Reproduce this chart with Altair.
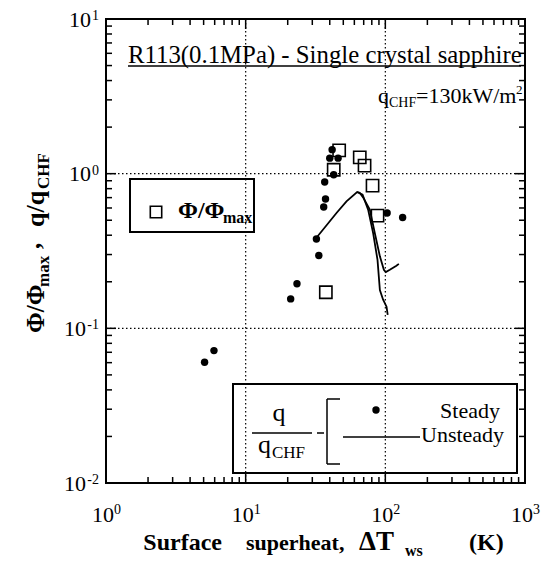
import altair as alt
import pandas as pd

# ---------------- data ----------------
steady_x = [5.08, 5.93, 21.0, 23.3, 32.1, 33.4, 36.2, 37.3, 36.8, 42.7, 40.0, 45.9, 41.6, 103.0, 133.0]
steady_y = [0.0604, 0.0718, 0.155, 0.194, 0.378, 0.296, 0.609, 0.686, 0.884, 0.985, 1.26, 1.26, 1.43, 0.557, 0.521]

phi_x = [37.5, 42.7, 46.7, 65.6, 71.0, 81.0, 87.9]
phi_y = [0.171, 1.06, 1.415, 1.275, 1.127, 0.836, 0.535]

unsteady_a_x = [32.0, 44.7, 52.7, 62.8, 68.7, 75.3, 81.8, 87.9, 91.4, 96.4, 102.0, 104.0]
unsteady_a_y = [0.384, 0.557, 0.662, 0.761, 0.731, 0.585, 0.413, 0.277, 0.177, 0.153, 0.138, 0.122]
unsteady_b_x = [62.8, 65.5, 69.5, 77.4, 84.1, 91.4, 97.6, 100.8, 107.7, 120.0, 125.0]
unsteady_b_y = [0.761, 0.752, 0.70, 0.585, 0.413, 0.292, 0.239, 0.231, 0.239, 0.254, 0.261]

x_major = [1, 10, 100, 1000]
x_minor = [2, 3, 4, 5, 6, 7, 8, 9, 20, 30, 40, 50, 60, 70, 80, 90,
           200, 300, 400, 500, 600, 700, 800, 900]
y_major = [0.01, 0.1, 1, 10]
y_minor = [0.02, 0.03, 0.04, 0.05, 0.06, 0.07, 0.08, 0.09,
           0.2, 0.3, 0.4, 0.5, 0.6, 0.7, 0.8, 0.9,
           2, 3, 4, 5, 6, 7, 8, 9]
x_grid = [10, 100]
y_grid = [0.1, 1]
x_tick_exp = ["0", "1", "2", "3"]
y_tick_pos = [1, 10]
y_tick_pos_exp = ["0", "1"]
y_tick_neg = [0.01, 0.1]
y_tick_neg_exp = ["-2", "-1"]

# ---------------- layout ----------------
W, H = 419, 464
FONT = "Liberation Serif"
xs = alt.Scale(type="log", domain=[1, 1000], nice=False)
ys = alt.Scale(type="log", domain=[0.01, 10], nice=False)
one = pd.DataFrame({"d": [0]})


def txt(s, x, y, size, weight="normal", align="left", angle=None):
    kw = dict(font=FONT, fontSize=size, fontWeight=weight, align=align,
              baseline="alphabetic", color="black")
    if angle is not None:
        kw["angle"] = angle
    return alt.Chart(one).mark_text(**kw).encode(
        x=alt.value(x), y=alt.value(y), text=alt.value(s))


def seg(x1, y1, x2, y2, w=1.5, dash=None):
    kw = dict(color="black", strokeWidth=w)
    if dash:
        kw["strokeDash"] = dash
    return alt.Chart(one).mark_rule(**kw).encode(
        x=alt.value(x1), y=alt.value(y1), x2=alt.value(x2), y2=alt.value(y2))


def box(x1, y1, x2, y2):
    return alt.Chart(one).mark_rect(fillOpacity=0, stroke="black", strokeWidth=2).encode(
        x=alt.value(x1), y=alt.value(y1), x2=alt.value(x2), y2=alt.value(y2))


layers = []

# grid lines (dotted)
gx = pd.DataFrame({"v": x_grid})
gy = pd.DataFrame({"v": y_grid})
layers.append(alt.Chart(gx).mark_rule(color="black", strokeWidth=1.2, strokeDash=[1.5, 2.5]).encode(
    x=alt.X("v:Q", scale=xs, axis=None), y=alt.value(0), y2=alt.value(H)))
layers.append(alt.Chart(gy).mark_rule(color="black", strokeWidth=1.2, strokeDash=[1.5, 2.5]).encode(
    y=alt.Y("v:Q", scale=ys, axis=None), x=alt.value(0), x2=alt.value(W)))

# inward ticks on all four sides
for vals, ln in ((x_major, 10), (x_minor, 6)):
    d = pd.DataFrame({"v": vals})
    layers.append(alt.Chart(d).mark_rule(color="black", strokeWidth=1.5).encode(
        x=alt.X("v:Q", scale=xs, axis=None), y=alt.value(H), y2=alt.value(H - ln)))
    layers.append(alt.Chart(d).mark_rule(color="black", strokeWidth=1.5).encode(
        x=alt.X("v:Q", scale=xs, axis=None), y=alt.value(0), y2=alt.value(ln)))
for vals, ln in ((y_major, 10), (y_minor, 6)):
    d = pd.DataFrame({"v": vals})
    layers.append(alt.Chart(d).mark_rule(color="black", strokeWidth=1.5).encode(
        y=alt.Y("v:Q", scale=ys, axis=None), x=alt.value(0), x2=alt.value(ln)))
    layers.append(alt.Chart(d).mark_rule(color="black", strokeWidth=1.5).encode(
        y=alt.Y("v:Q", scale=ys, axis=None), x=alt.value(W), x2=alt.value(W - ln)))

# tick labels
xl = pd.DataFrame({"v": x_major, "e": x_tick_exp})
layers.append(alt.Chart(xl).mark_text(font=FONT, fontSize=22, align="right", baseline="alphabetic", dx=8).encode(
    x=alt.X("v:Q", scale=xs, axis=None), y=alt.value(H + 39), text=alt.value("10")))
layers.append(alt.Chart(xl).mark_text(font=FONT, fontSize=14, align="left", baseline="alphabetic", dx=8).encode(
    x=alt.X("v:Q", scale=xs, axis=None), y=alt.value(H + 31), text="e:N"))
for vals, exps, ew in ((y_tick_pos, y_tick_pos_exp, 8), (y_tick_neg, y_tick_neg_exp, 13)):
    d = pd.DataFrame({"v": vals, "e": exps})
    layers.append(alt.Chart(d).mark_text(font=FONT, fontSize=22, align="right", baseline="alphabetic", dy=7.5).encode(
        y=alt.Y("v:Q", scale=ys, axis=None), x=alt.value(-7 - ew), text=alt.value("10")))
    layers.append(alt.Chart(d).mark_text(font=FONT, fontSize=14, align="right", baseline="alphabetic", dy=1).encode(
        y=alt.Y("v:Q", scale=ys, axis=None), x=alt.value(-7), text="e:N"))

# unsteady curves
rows = []
for i, (a, b) in enumerate(zip(unsteady_a_x, unsteady_a_y)):
    rows.append({"x": a, "y": b, "s": "A", "o": i})
for i, (a, b) in enumerate(zip(unsteady_b_x, unsteady_b_y)):
    rows.append({"x": a, "y": b, "s": "B", "o": i})
curves = pd.DataFrame(rows)
layers.append(alt.Chart(curves).mark_line(color="black", strokeWidth=1.8).encode(
    x=alt.X("x:Q", scale=xs, axis=None), y=alt.Y("y:Q", scale=ys, axis=None),
    detail="s:N", order="o:Q"))

# Phi/Phimax squares
sq = pd.DataFrame({"x": phi_x, "y": phi_y})
layers.append(alt.Chart(sq).mark_point(shape="square", filled=False, size=150, color="black",
                                       strokeWidth=1.6, opacity=1).encode(
    x=alt.X("x:Q", scale=xs, axis=None), y=alt.Y("y:Q", scale=ys, axis=None)))

# steady dots
st = pd.DataFrame({"x": steady_x, "y": steady_y})
layers.append(alt.Chart(st).mark_circle(size=55, color="black", opacity=1).encode(
    x=alt.X("x:Q", scale=xs, axis=None), y=alt.Y("y:Q", scale=ys, axis=None)))

# title annotation (underlined)
layers.append(txt("R113(0.1MPa) - Single crystal sapphire", 22, 44, 24.8))
layers.append(seg(22, 47, 415, 47, w=1.3))

# q_CHF = 130 kW/m2
J1 = 283
layers.append(txt("q", J1, 84, 22, align="right"))
layers.append(txt("CHF", J1, 88, 14))
layers.append(txt("=130kW/m", J1 + 27, 84, 22))
layers.append(txt("2", 410, 75, 13))

# legend box 1
layers.append(box(24, 160, 148, 213))
layers.append(alt.Chart(one).mark_point(shape="square", filled=False, size=130, color="black",
                                        strokeWidth=1.6, opacity=1).encode(
    x=alt.value(50), y=alt.value(193)))
layers.append(txt("Φ/Φ", 72, 199, 24, weight="bold"))
layers.append(txt("max", 117, 204, 16, weight="bold"))

# legend box 2
layers.append(box(127, 365, 411, 454))
layers.append(txt("q", 173, 402, 26, align="center"))
layers.append(seg(146, 414, 206, 414, w=1.5))
layers.append(txt("q", 165, 434, 26, align="right"))
layers.append(txt("CHF", 166, 439, 17))
layers.append(seg(211, 414, 218, 414, w=1.5))
layers.append(seg(221, 380, 221, 445, w=1.5))
layers.append(seg(221, 380, 234, 380, w=1.5))
layers.append(seg(221, 445, 234, 445, w=1.5))
layers.append(alt.Chart(one).mark_circle(size=55, color="black", opacity=1).encode(
    x=alt.value(270), y=alt.value(391)))
layers.append(txt("Steady", 394, 399, 22, align="right"))
layers.append(seg(237, 418, 314, 418, w=1.5))
layers.append(txt("Unsteady", 315, 423, 22))

# x axis title
layers.append(txt("Surface", 116, 531, 24, weight="bold", align="right"))
layers.append(txt("superheat,", 140, 531, 22, weight="bold"))
layers.append(txt("ΔT", 253, 531, 27, weight="bold"))
layers.append(txt("ws", 299, 537, 16, weight="bold"))
layers.append(txt("(K)", 363, 531, 24, weight="bold"))

# y axis title (rotated)
layers.append(txt("Φ/Φ", -62, 314, 25, weight="bold", angle=270))
layers.append(txt("max", -57, 268, 17, weight="bold", angle=270))
layers.append(txt(",", -66, 230, 25, weight="bold", angle=270))
layers.append(txt("q/q", -62, 208, 26, weight="bold", angle=270))
layers.append(txt("CHF", -57, 170, 17, weight="bold", angle=270))

chart = alt.layer(*layers).properties(
    width=W, height=H,
    autosize=alt.AutoSizeParams(type="none"),
    padding={"left": 106, "top": 19, "right": 21, "bottom": 87},
    background="white",
).configure_view(stroke="black", strokeWidth=2)

chart.save("out.html", embed_options={"renderer": "svg", "actions": False})
